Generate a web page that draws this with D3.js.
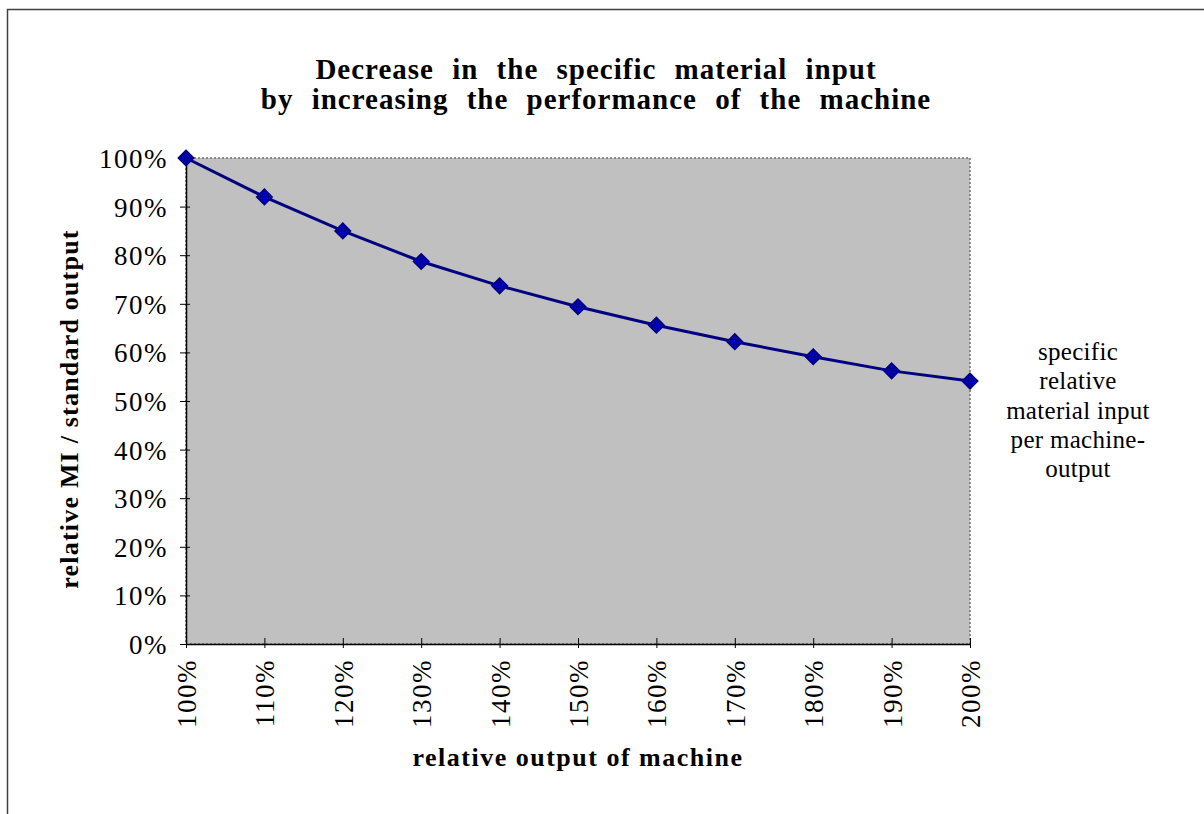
<!DOCTYPE html>
<html>
<head>
<meta charset="utf-8">
<script src="https://cdn.jsdelivr.net/npm/d3@7"></script>
<style>
  html, body { margin: 0; padding: 0; background: #fff; }
  svg { display: block; font-family: "Liberation Serif", "Times New Roman", serif; }
</style>
</head>
<body>
<svg id="chart" width="1204" height="814"></svg>
<script>
// Data
const outputs = [1.0, 1.1, 1.2, 1.3, 1.4, 1.5, 1.6, 1.7, 1.8, 1.9, 2.0];
const specificMI = [1.0, 0.92, 0.85, 0.787, 0.737, 0.694, 0.656, 0.622, 0.591, 0.562, 0.541];
const yTicks = [0, 0.1, 0.2, 0.3, 0.4, 0.5, 0.6, 0.7, 0.8, 0.9, 1.0];
const titleLines = ["Decrease in the specific material input", "by increasing the performance of the machine"];
const legendLines = ["specific", "relative", "material input", "per machine-", "output"];

const svg = d3.select("#chart");
const plot = { left: 186, top: 158, right: 970, bottom: 644 };

const x = d3.scaleLinear().domain([1.0, 2.0]).range([plot.left, plot.right]);
const y = d3.scaleLinear().domain([0, 1]).range([plot.bottom, plot.top]);
const pct = d3.format(".0%");

// outer chart border (top and left visible)
svg.append("path")
  .attr("d", "M7.5,814 V9.5 H1204")
  .attr("fill", "none").attr("stroke", "#404040").attr("stroke-width", 1.5);

// diamond fill pattern (dithered navy)
const defs = svg.append("defs");
const pat = defs.append("pattern").attr("id", "dither")
  .attr("width", 4).attr("height", 4).attr("patternUnits", "userSpaceOnUse");
pat.append("rect").attr("width", 4).attr("height", 4).attr("fill", "#000080");
pat.append("rect").attr("width", 2).attr("height", 2).attr("fill", "#0000d0");
pat.append("rect").attr("x", 2).attr("y", 2).attr("width", 2).attr("height", 2).attr("fill", "#0000d0");

// plot area
svg.append("rect")
  .attr("x", plot.left).attr("y", plot.top)
  .attr("width", plot.right - plot.left).attr("height", plot.bottom - plot.top)
  .attr("fill", "#c0c0c0")
  .attr("stroke", "#707070").attr("stroke-width", 1.5).attr("stroke-dasharray", "2 2");

// axes
const yAxis = svg.append("g")
  .attr("transform", `translate(${plot.left},0)`)
  .call(d3.axisLeft(y).tickValues(yTicks).tickFormat(pct).tickSizeInner(6).tickSizeOuter(0).tickPadding(12));
yAxis.selectAll(".tick line").attr("x2", 4).attr("x1", -6).attr("stroke", "#000");
yAxis.select(".domain").attr("stroke", "#000").attr("stroke-width", 1.5);
yAxis.selectAll("text")
  .attr("font-family", "Liberation Serif, serif").attr("font-size", 27).attr("fill", "#000")
  .attr("letter-spacing", 1.5)
  .attr("x", -18)
  .attr("dy", "0.35em");

const xAxis = svg.append("g")
  .attr("transform", `translate(0,${plot.bottom})`)
  .call(d3.axisBottom(x).tickValues(outputs).tickFormat(pct).tickSizeInner(4).tickSizeOuter(0).tickPadding(0));
xAxis.selectAll(".tick line").attr("y1", -6).attr("y2", 4).attr("stroke", "#000");
xAxis.select(".domain").attr("stroke", "#000").attr("stroke-width", 1.5);
xAxis.selectAll("text")
  .attr("font-family", "Liberation Serif, serif").attr("font-size", 27).attr("fill", "#000")
  .attr("letter-spacing", 1.5)
  .attr("transform", "rotate(-90)")
  .attr("text-anchor", "end")
  .attr("x", -15).attr("y", 0).attr("dy", "0.35em");

// line
const line = d3.line().x((d, i) => x(outputs[i])).y(d => y(d));
svg.append("path")
  .datum(specificMI)
  .attr("d", line)
  .attr("fill", "none").attr("stroke", "#000080").attr("stroke-width", 3);

// markers
svg.append("g").selectAll("path")
  .data(specificMI)
  .join("path")
  .attr("transform", (d, i) => `translate(${x(outputs[i])},${y(d)}) rotate(45)`)
  .attr("d", "M-5.5,-5.5H5.5V5.5H-5.5Z")
  .attr("fill", "url(#dither)")
  .attr("stroke", "#000080").attr("stroke-width", 1.5);

// title
svg.append("text")
  .attr("text-anchor", "middle")
  .attr("font-size", 29).attr("font-weight", "bold")
  .attr("letter-spacing", 1).attr("word-spacing", 10)
  .selectAll("tspan").data(titleLines).join("tspan")
  .attr("x", 596).attr("y", (d, i) => 79 + i * 30)
  .text(d => d);

// axis titles
svg.append("text")
  .attr("x", 578).attr("y", 766)
  .attr("text-anchor", "middle")
  .attr("font-size", 26).attr("font-weight", "bold").attr("letter-spacing", 1.5)
  .text("relative output of machine");

svg.append("text")
  .attr("transform", "translate(78,409) rotate(-90)")
  .attr("text-anchor", "middle")
  .attr("font-size", 26).attr("font-weight", "bold").attr("letter-spacing", 1.2)
  .text("relative MI / standard output");

// legend
svg.append("text")
  .attr("text-anchor", "middle")
  .attr("font-size", 25).attr("letter-spacing", 0.3)
  .selectAll("tspan").data(legendLines).join("tspan")
  .attr("x", 1078).attr("y", (d, i) => 360 + i * 29.3)
  .text(d => d);
</script>
</body>
</html>
